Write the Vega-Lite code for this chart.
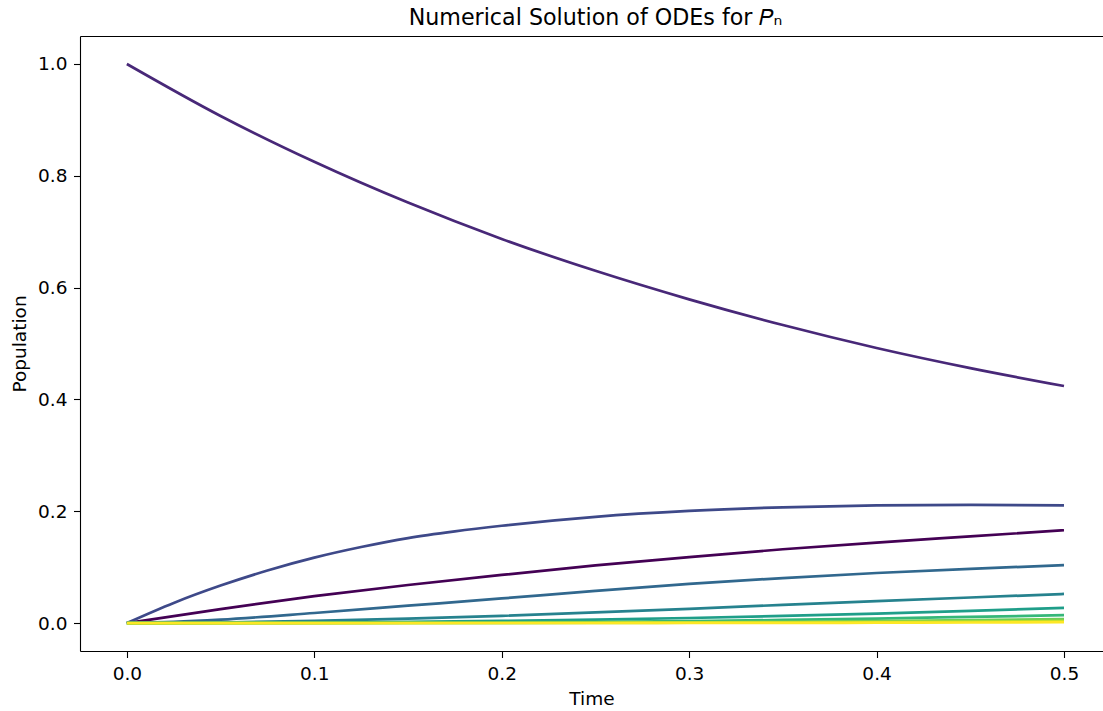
{
  "$schema": "https://vega.github.io/schema/vega-lite/v6.json",
  "width": 1023,
  "height": 615,
  "autosize": {"type": "none"},
  "padding": {"left": 80, "top": 36, "right": 0, "bottom": 60},
  "background": "white",
  "title": {
    "text": "Numerical Solution of ODEs for 𝑃ₙ",
    "font": "DejaVu Sans",
    "fontSize": 22.2,
    "fontWeight": "normal",
    "color": "#000",
    "anchor": "middle",
    "baseline": "alphabetic",
    "offset": -11,
    "dx": 4
  },
  "config": {
    "view": {"stroke": null},
    "axis": {
      "grid": false,
      "domainColor": "#000",
      "domainWidth": 1.1,
      "tickColor": "#000",
      "tickWidth": 1.1,
      "tickSize": 6.5,
      "labelPadding": 6.5,
      "labelFont": "DejaVu Sans",
      "labelFontSize": 18.5,
      "labelColor": "#000",
      "titleFont": "DejaVu Sans",
      "titleFontSize": 18.5,
      "titleFontWeight": "normal",
      "titleColor": "#000"
    }
  },
  "data": {
    "values": [
      {"n": "P0", "t": 0, "v": 0},
      {"n": "P0", "t": 0.05, "v": 0.025},
      {"n": "P0", "t": 0.1, "v": 0.048},
      {"n": "P0", "t": 0.15, "v": 0.068},
      {"n": "P0", "t": 0.2, "v": 0.086},
      {"n": "P0", "t": 0.25, "v": 0.103},
      {"n": "P0", "t": 0.3, "v": 0.118},
      {"n": "P0", "t": 0.35, "v": 0.132},
      {"n": "P0", "t": 0.4, "v": 0.144},
      {"n": "P0", "t": 0.45, "v": 0.155},
      {"n": "P0", "t": 0.5, "v": 0.166},

      {"n": "P1", "t": 0, "v": 1.0},
      {"n": "P1", "t": 0.05, "v": 0.907},
      {"n": "P1", "t": 0.1, "v": 0.825},
      {"n": "P1", "t": 0.15, "v": 0.752},
      {"n": "P1", "t": 0.2, "v": 0.687},
      {"n": "P1", "t": 0.25, "v": 0.630},
      {"n": "P1", "t": 0.3, "v": 0.579},
      {"n": "P1", "t": 0.35, "v": 0.533},
      {"n": "P1", "t": 0.4, "v": 0.492},
      {"n": "P1", "t": 0.45, "v": 0.456},
      {"n": "P1", "t": 0.5, "v": 0.424},

      {"n": "P2", "t": 0, "v": 0},
      {"n": "P2", "t": 0.025, "v": 0.036},
      {"n": "P2", "t": 0.05, "v": 0.067},
      {"n": "P2", "t": 0.075, "v": 0.094},
      {"n": "P2", "t": 0.1, "v": 0.117},
      {"n": "P2", "t": 0.125, "v": 0.136},
      {"n": "P2", "t": 0.15, "v": 0.152},
      {"n": "P2", "t": 0.175, "v": 0.164},
      {"n": "P2", "t": 0.2, "v": 0.174},
      {"n": "P2", "t": 0.25, "v": 0.190},
      {"n": "P2", "t": 0.3, "v": 0.2005},
      {"n": "P2", "t": 0.35, "v": 0.207},
      {"n": "P2", "t": 0.4, "v": 0.2105},
      {"n": "P2", "t": 0.45, "v": 0.2115},
      {"n": "P2", "t": 0.5, "v": 0.2105},

      {"n": "P3", "t": 0, "v": 0},
      {"n": "P3", "t": 0.025, "v": 0.002},
      {"n": "P3", "t": 0.05, "v": 0.006},
      {"n": "P3", "t": 0.1, "v": 0.018},
      {"n": "P3", "t": 0.15, "v": 0.031},
      {"n": "P3", "t": 0.2, "v": 0.044},
      {"n": "P3", "t": 0.25, "v": 0.0575},
      {"n": "P3", "t": 0.3, "v": 0.070},
      {"n": "P3", "t": 0.35, "v": 0.0805},
      {"n": "P3", "t": 0.4, "v": 0.0895},
      {"n": "P3", "t": 0.45, "v": 0.097},
      {"n": "P3", "t": 0.5, "v": 0.1035},

      {"n": "P4", "t": 0, "v": 0},
      {"n": "P4", "t": 0.05, "v": 0.001},
      {"n": "P4", "t": 0.1, "v": 0.004},
      {"n": "P4", "t": 0.15, "v": 0.008},
      {"n": "P4", "t": 0.2, "v": 0.013},
      {"n": "P4", "t": 0.25, "v": 0.019},
      {"n": "P4", "t": 0.3, "v": 0.0255},
      {"n": "P4", "t": 0.35, "v": 0.0325},
      {"n": "P4", "t": 0.4, "v": 0.0392},
      {"n": "P4", "t": 0.45, "v": 0.0457},
      {"n": "P4", "t": 0.5, "v": 0.052},

      {"n": "P5", "t": 0, "v": 0},
      {"n": "P5", "t": 0.05, "v": 0.0001},
      {"n": "P5", "t": 0.1, "v": 0.0008},
      {"n": "P5", "t": 0.15, "v": 0.002},
      {"n": "P5", "t": 0.2, "v": 0.0038},
      {"n": "P5", "t": 0.25, "v": 0.006},
      {"n": "P5", "t": 0.3, "v": 0.009},
      {"n": "P5", "t": 0.35, "v": 0.0127},
      {"n": "P5", "t": 0.4, "v": 0.017},
      {"n": "P5", "t": 0.45, "v": 0.0218},
      {"n": "P5", "t": 0.5, "v": 0.027},

      {"n": "P6", "t": 0, "v": 0},
      {"n": "P6", "t": 0.1, "v": 0.0002},
      {"n": "P6", "t": 0.15, "v": 0.0005},
      {"n": "P6", "t": 0.2, "v": 0.001},
      {"n": "P6", "t": 0.25, "v": 0.002},
      {"n": "P6", "t": 0.3, "v": 0.0035},
      {"n": "P6", "t": 0.35, "v": 0.0055},
      {"n": "P6", "t": 0.4, "v": 0.008},
      {"n": "P6", "t": 0.45, "v": 0.011},
      {"n": "P6", "t": 0.5, "v": 0.014},

      {"n": "P7", "t": 0, "v": 0},
      {"n": "P7", "t": 0.15, "v": 0.0001},
      {"n": "P7", "t": 0.2, "v": 0.0003},
      {"n": "P7", "t": 0.25, "v": 0.0007},
      {"n": "P7", "t": 0.3, "v": 0.0013},
      {"n": "P7", "t": 0.35, "v": 0.0023},
      {"n": "P7", "t": 0.4, "v": 0.0036},
      {"n": "P7", "t": 0.45, "v": 0.0052},
      {"n": "P7", "t": 0.5, "v": 0.0072},

      {"n": "P8", "t": 0, "v": 0},
      {"n": "P8", "t": 0.2, "v": 0.0001},
      {"n": "P8", "t": 0.25, "v": 0.0002},
      {"n": "P8", "t": 0.3, "v": 0.0005},
      {"n": "P8", "t": 0.35, "v": 0.0009},
      {"n": "P8", "t": 0.4, "v": 0.0015},
      {"n": "P8", "t": 0.45, "v": 0.0024},
      {"n": "P8", "t": 0.5, "v": 0.0036},

      {"n": "P9", "t": 0, "v": 0},
      {"n": "P9", "t": 0.25, "v": 0.0001},
      {"n": "P9", "t": 0.3, "v": 0.0002},
      {"n": "P9", "t": 0.35, "v": 0.0003},
      {"n": "P9", "t": 0.4, "v": 0.0006},
      {"n": "P9", "t": 0.45, "v": 0.001},
      {"n": "P9", "t": 0.5, "v": 0.0017}
    ]
  },
  "resolve": {"axis": {"x": "independent", "y": "independent"}},
  "layer": [
    {
      "mark": {"type": "line", "interpolate": "monotone", "strokeWidth": 2.7, "clip": true},
      "encoding": {
        "x": {
          "field": "t",
          "type": "quantitative",
          "scale": {"domain": [-0.025, 0.52081], "nice": false, "zero": false},
          "axis": {
            "orient": "bottom",
            "values": [0, 0.1, 0.2, 0.3, 0.4, 0.5],
            "format": ".1f",
            "title": "Time",
            "titlePadding": 7
          }
        },
        "y": {
          "field": "v",
          "type": "quantitative",
          "scale": {"domain": [-0.05, 1.05], "nice": false, "zero": false},
          "axis": {
            "orient": "left",
            "values": [0, 0.2, 0.4, 0.6, 0.8, 1.0],
            "format": ".1f",
            "title": "Population",
            "titlePadding": 8
          }
        },
        "color": {
          "field": "n",
          "type": "nominal",
          "scale": {
            "domain": ["P0", "P1", "P2", "P3", "P4", "P5", "P6", "P7", "P8", "P9"],
            "range": ["#440154", "#482878", "#3e4989", "#31688e", "#26828e", "#1f9e89", "#35b779", "#6ece58", "#b5de2b", "#fde725"]
          },
          "legend": null
        }
      }
    },
    {
      "mark": {"type": "line", "opacity": 0},
      "encoding": {
        "x": {
          "field": "t",
          "type": "quantitative",
          "axis": {"orient": "top", "labels": false, "ticks": false, "title": null}
        },
        "y": {"field": "v", "type": "quantitative", "axis": null},
        "detail": {"field": "n"}
      }
    }
  ]
}
